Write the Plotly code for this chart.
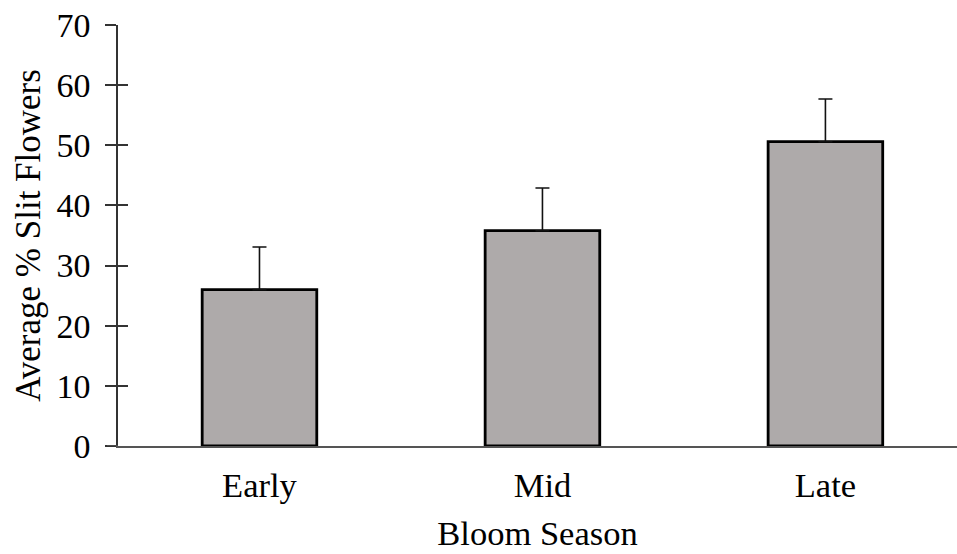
import plotly.graph_objects as go

categories = ["Early", "Mid", "Late"]
means = [26.0, 35.8, 50.6]
errors = [7.1, 7.1, 7.1]
y_ticks = [0, 10, 20, 30, 40, 50, 60, 70]

FONT = "Liberation Serif, Times New Roman, serif"

fig = go.Figure()
fig.add_trace(go.Bar(
    x=categories, y=means, width=0.405,
    marker=dict(color="#AEAAAA", line=dict(color="#000000", width=2.8)),
    error_y=dict(type="data", array=errors, arrayminus=[0, 0, 0], symmetric=False,
                 color="#111111", thickness=1.6, width=7),
))
# invisible trace on overlay axis to get inside ticks
fig.add_trace(go.Scatter(x=categories, y=means, yaxis="y2", mode="markers",
                         marker=dict(opacity=0), hoverinfo="skip", showlegend=False))

fig.update_layout(
    width=957, height=554,
    margin=dict(l=118, r=0, t=25, b=108),
    plot_bgcolor="white", paper_bgcolor="white",
    showlegend=False,
    font=dict(family=FONT, size=34.5, color="#000000"),
    xaxis=dict(
        range=[-0.5, 2.465], showline=True, linecolor="#555555", linewidth=1.5,
        ticks="", showgrid=False, zeroline=False,
        ticklabelstandoff=8,
        title=dict(text="Bloom Season", standoff=18, font=dict(size=34.5)),
    ),
    yaxis=dict(
        range=[0, 70], tickvals=y_ticks, showline=True, linecolor="#333333", linewidth=1.5,
        ticks="outside", ticklen=11, tickwidth=1.5, tickcolor="#333333",
        showgrid=False, zeroline=False, ticklabelstandoff=8,
        tickfont=dict(size=34),
        title=dict(text="Average % Slit Flowers", standoff=5, font=dict(size=35)),
    ),
    yaxis2=dict(
        range=[0, 70], tickvals=y_ticks, overlaying="y", side="left", anchor="x",
        ticks="inside", ticklen=10, tickwidth=1.5, tickcolor="#333333",
        showticklabels=False, showgrid=False, zeroline=False, showline=False,
    ),
)
# extend x-axis baseline slightly left past the y-axis, like the reference
fig.add_shape(type="line", xref="paper", yref="y", x0=-11/839, x1=0, y0=0, y1=0,
              line=dict(color="#555555", width=1.5))

fig.write_html("out.html")
